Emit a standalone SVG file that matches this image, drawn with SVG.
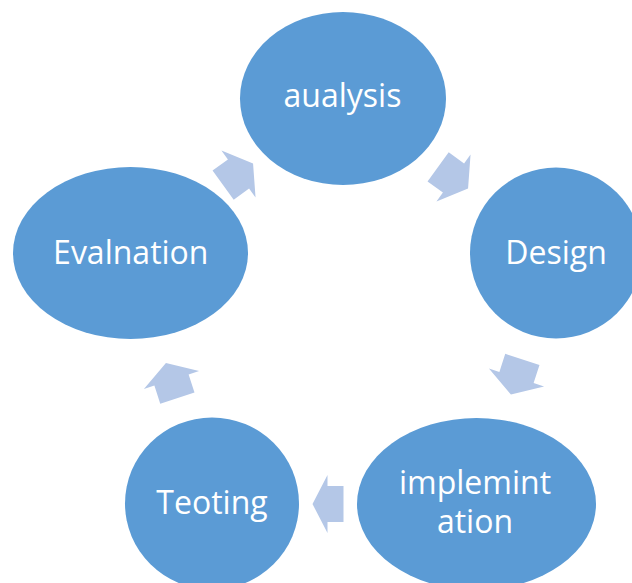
<svg xmlns="http://www.w3.org/2000/svg" width="632" height="583" viewBox="0 0 632 583">
<style>
.node{fill:#5B9BD5;}
.lbl{font-family:"Open Sans","Noto Sans","Liberation Sans",sans-serif;font-size:32px;fill:#FFFFFF;text-anchor:middle;}
.arr{fill:#B4C7E7;}
</style>
<defs>
<path id="arrow" d="M -16,-18 L 0,-18 L 0,-29 L 15,0 L 0,29 L 0,18 L -16,18 Z"/>
<path id="arrowLong" d="M -19,-18 L 0,-18 L 0,-29 L 18,0 L 0,29 L 0,18 L -19,18 Z"/>
</defs>
<rect width="632" height="583" fill="#FFFFFF"/>
<g id="connectors">
<use href="#arrowLong" class="arr" transform="translate(238.5,174) rotate(-36)"/>
<use href="#arrowLong" class="arr" transform="translate(453.5,178) rotate(36)"/>
<use href="#arrowLong" class="arr" transform="translate(516.5,377.5) rotate(108)"/>
<use href="#arrow" class="arr" transform="translate(327.5,504) rotate(180)"/>
<use href="#arrowLong" class="arr" transform="translate(171.5,380) rotate(252)"/>
</g>
<g id="analysis">
<ellipse class="node" cx="343" cy="98.5" rx="103" ry="86.5"/>
<text class="lbl" x="342.5" y="107">aualysis</text>
</g>
<g id="design">
<ellipse class="node" cx="556" cy="253" rx="86" ry="85.5"/>
<text class="lbl" x="556" y="263.5">Design</text>
</g>
<g id="implementation">
<ellipse class="node" cx="476.5" cy="504" rx="119.5" ry="86"/>
<text class="lbl" x="475" y="493.5">implemint</text>
<text class="lbl" x="475" y="533">ation</text>
</g>
<g id="testing">
<ellipse class="node" cx="212" cy="503.5" rx="87" ry="86"/>
<text class="lbl" x="212" y="514">Teoting</text>
</g>
<g id="evaluation">
<ellipse class="node" cx="130.5" cy="253" rx="117.5" ry="86"/>
<text class="lbl" x="130.8" y="263.5">Evalnation</text>
</g>
</svg>
